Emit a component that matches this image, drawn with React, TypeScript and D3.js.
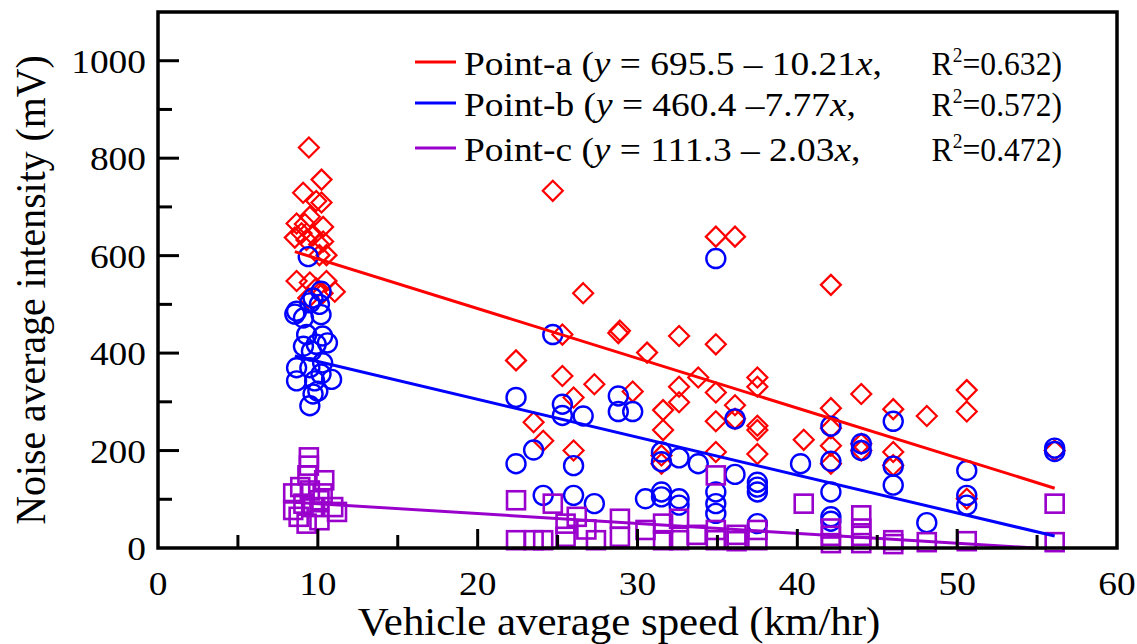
import React from "react";
import * as d3 from "d3";

// Vehicle speed (km/hr) vs. noise intensity (mV) at three measuring points
const pointASpeed = [
  9.44, 10.23, 9.08, 9.9, 10.23, 8.67, 9.5, 9.19, 10.33, 8.56, 8.98, 9.71, 10.08, 10.33, 9.29, 10.54, 10.1, 8.67, 9.5, 10.54, 11.06, 9.9, 9.4, 10.3,
  24.7, 34.9, 36.1, 26.6, 25.3, 28.8, 28.9, 32.6, 34.9, 30.6, 22.4, 25.3, 27.3, 29.7, 33.8, 32.6, 32.6, 34.9, 37.5, 37.5, 26, 31.6, 36.1, 31.6, 23.5, 24.1, 26, 34.9, 37.5, 37.5, 36.1, 34.9, 37.5, 31.5, 31.5,
  40.4, 42.1, 44, 42.1, 46, 48.1, 50.6, 50.6, 42.1, 42.1, 42.1, 44, 44, 46, 46, 50.6, 56.1,
];
const pointANoise = [
  822, 756, 729, 712, 709, 666, 680, 665, 659, 637, 646, 642, 623, 629, 632, 601, 601, 548, 545, 548, 526, 533, 513, 523,
  733, 639, 639, 523, 438, 441, 446, 435, 418, 401, 385, 353, 336, 321, 350, 331, 299, 319, 350, 331, 309, 283, 293, 242, 258, 220, 200, 260, 251, 242, 265, 197, 193, 190, 173,
  222, 540, 316, 287, 285, 271, 324, 280, 246, 210, 173, 214, 200, 197, 170, 101, 200,
];

const pointBSpeed = [
  9.4, 10.2, 9.7, 8.67, 9.5, 8.56, 9.1, 10.2, 10.1, 9.3, 10.3, 9.1, 9.9, 10.6, 9.6, 8.67, 9.5, 10.3, 8.67, 9.8, 10.86, 10.2, 9.7, 9.5, 10.0,
  24.7, 34.9, 22.4, 25.3, 25.3, 26.6, 28.8, 28.8, 29.7, 36.1, 23.5, 22.4, 26, 31.5, 31.5, 32.6, 33.8, 36.1, 24.1, 26, 27.3, 30.5, 31.5, 31.5, 32.6, 32.6, 34.9, 34.9, 34.9, 37.5, 37.5, 37.5, 37.5,
  40.2, 42.1, 42.1, 42.1, 42.1, 42.1, 44, 44, 46, 46, 46, 48.1, 50.6, 50.6, 50.6, 56.1, 56.1,
];
const pointBNoise = [
  598, 527, 513, 486, 503, 480, 472, 479, 500, 438, 435, 414, 418, 421, 404, 370, 370, 380, 343, 343, 346, 357, 316, 292, 322,
  438, 594, 309, 295, 272, 271, 312, 280, 280, 265, 201, 173, 169, 197, 177, 185, 173, 151, 108, 108, 91, 101, 115, 105, 101, 88, 115, 91, 71, 135, 125, 115, 50,
  173, 250, 178, 115, 64, 55, 214, 200, 260, 168, 129, 52, 159, 108, 88, 205, 198,
];

const pointCSpeed = [
  9.44, 9.44, 9.35, 10.4, 8.46, 8.46, 9.5, 9.1, 10.1, 10.96, 11.2, 9.3, 10.1, 9.7, 10.3, 8.9, 8.8,
  22.4, 24.7, 34.9, 28.9, 22.4, 23.5, 24.1, 25.5, 25.5, 26.2, 26.8, 27.4, 28.9, 30.5, 31.6, 31.6, 32.6, 32.6, 33.7, 34.9, 34.9, 36.2, 36.2, 37.5, 37.5,
  40.4, 56.1, 42.1, 42.1, 42.1, 44, 44, 44, 44, 46, 46, 48.1, 50.6, 56.1,
];
const pointCNoise = [
  186, 169, 149, 139, 112, 78, 118, 91, 98, 84, 74, 50, 57, 84, 112, 125, 64,
  98, 91, 149, 60, 16, 16, 16, 50, 23, 64, 38, 16, 23, 37, 50, 16, 60, 16, 27, 37, 16, 27, 14, 37, 16,
  91, 91, 40, 25, 10, 67, 40, 25, 10, 16, 8, 12, 14, 12,
];

// Linear fits: intercept, slope
const fitIntercepts = [695.5, 460.4, 111.3];
const fitSlopes = [-10.21, -7.77, -2.03];

const seriesNames = ["Point-a", "Point-b", "Point-c"];
const fitEquations = ["695.5 \u2013 10.21", "460.4 \u20137.77", "111.3 \u2013 2.03"];
const fitR2 = ["0.632", "0.572", "0.472"];

const xTicks = [0, 10, 20, 30, 40, 50, 60];
const xMinorTicks = [5, 15, 25, 35, 45, 55];
const yTicks = [0, 200, 400, 600, 800, 1000];
const yMinorTicks = [100, 300, 500, 700, 900];

const colors = ["#ff0000", "#0000ff", "#9900cc"];

const W = 1137;
const H = 644;
const left = 158;
const right = 1117;
const top = 12;
const bottom = 548;

const x = d3.scaleLinear().domain([0, 60]).range([left, right]);
const y = d3.scaleLinear().domain([0, 1100]).range([bottom, top]);

const serif = "'Liberation Serif', 'Times New Roman', serif";
// the type is set slightly wide
const stretch = 1.1;

function zip(xs: number[], ys: number[]) {
  return xs.map((v, i) => [v, ys[i]] as [number, number]);
}

const series = [
  zip(pointASpeed, pointANoise),
  zip(pointBSpeed, pointBNoise),
  zip(pointCSpeed, pointCNoise),
];

const diamondPath = "M0,-10L10,0L0,10L-10,0Z";

function Marker({ kind, cx, cy, color }: { kind: number; cx: number; cy: number; color: string }) {
  if (kind === 0) {
    return <path d={diamondPath} transform={`translate(${cx},${cy})`} fill="none" stroke={color} strokeWidth={2.2} />;
  }
  if (kind === 1) {
    return <circle cx={cx} cy={cy} r={9.5} fill="none" stroke={color} strokeWidth={2.4} />;
  }
  return <rect x={cx - 9} y={cy - 9} width={18} height={18} fill="none" stroke={color} strokeWidth={2.6} />;
}

function WideText({
  tx,
  ty,
  anchor = "start",
  size,
  sx = stretch,
  children,
}: {
  tx: number;
  ty: number;
  anchor?: string;
  size: number;
  sx?: number;
  children: React.ReactNode;
}) {
  return (
    <text
      transform={`translate(${tx},${ty}) scale(${sx},1)`}
      textAnchor={anchor}
      fontSize={size}
      fill="#000"
      style={{ whiteSpace: "pre" }}
    >
      {children}
    </text>
  );
}

export default function App() {
  const line = d3
    .line<[number, number]>()
    .x((d) => x(d[0]))
    .y((d) => y(d[1]));

  const fitLines = series.map((pts, i) => {
    const xs = pts.map((p) => p[0]);
    const x0 = d3.min(xs) as number;
    let x1 = d3.max(xs) as number;
    const b = fitIntercepts[i];
    const m = fitSlopes[i];
    // stop where the fit reaches zero
    if (b + m * x1 < 0) x1 = -b / m;
    return line([
      [x0, b + m * x0],
      [x1, b + m * x1],
    ]);
  });

  const legendRows = [
    { lineY: 62, base: 75 },
    { lineY: 103, base: 116 },
    { lineY: 148, base: 161 },
  ];

  return (
    <svg
      width={W}
      height={H}
      style={{ position: "absolute", left: 0, top: 0, background: "#fff" }}
      fontFamily={serif}
    >
      <rect x={0} y={0} width={W} height={H} fill="#fff" />

      {/* markers */}
      {series.map((pts, si) =>
        pts.map((p, i) => <Marker key={`${si}-${i}`} kind={si} cx={x(p[0])} cy={y(p[1])} color={colors[si]} />)
      )}

      {/* fitted lines */}
      {fitLines.map((d, i) => (
        <path key={i} d={d || ""} fill="none" stroke={colors[i]} strokeWidth={3} />
      ))}

      {/* ticks */}
      {xTicks.slice(1, -1).map((t) => (
        <line key={`xt${t}`} x1={x(t)} x2={x(t)} y1={bottom} y2={bottom - 19} stroke="#000" strokeWidth={3} />
      ))}
      {xMinorTicks.map((t) => (
        <line key={`xm${t}`} x1={x(t)} x2={x(t)} y1={bottom} y2={bottom - 13} stroke="#000" strokeWidth={3} />
      ))}
      {yTicks.slice(1).map((t) => (
        <line key={`yt${t}`} x1={left} x2={left + 21} y1={y(t)} y2={y(t)} stroke="#000" strokeWidth={3} />
      ))}
      {yMinorTicks.map((t) => (
        <line key={`ym${t}`} x1={left} x2={left + 14} y1={y(t)} y2={y(t)} stroke="#000" strokeWidth={3} />
      ))}

      {/* frame */}
      <rect x={left} y={top} width={right - left} height={bottom - top} fill="none" stroke="#000" strokeWidth={3.5} />

      {/* tick labels */}
      {yTicks.map((t) => (
        <WideText key={`yl${t}`} tx={146} ty={y(t) + 12} anchor="end" size={34}>
          {t}
        </WideText>
      ))}
      {xTicks.map((t) => (
        <WideText key={`xl${t}`} tx={x(t)} ty={595} anchor="middle" size={34}>
          {t}
        </WideText>
      ))}

      {/* axis titles */}
      <WideText tx={619} ty={635} anchor="middle" size={39}>
        Vehicle average speed (km/hr)
      </WideText>
      <text
        transform={`translate(45,${(top + bottom) / 2 + 10}) rotate(-90) scale(1.02,${stretch})`}
        textAnchor="middle"
        fontSize={39}
        fill="#000"
      >
        Noise average intensity (mV)
      </text>

      {/* legend */}
      {legendRows.map((r, i) => (
        <g key={`lg${i}`}>
          <line x1={415} x2={456} y1={r.lineY} y2={r.lineY} stroke={colors[i]} strokeWidth={3} />
          <WideText tx={464} ty={r.base} size={34}>
            {seriesNames[i]} (<tspan fontStyle="italic">y</tspan> = {fitEquations[i]}
            <tspan fontStyle="italic">x</tspan>,
          </WideText>
          <WideText tx={1062} ty={r.base} anchor="end" size={34} sx={0.93}>
            R<tspan fontSize={21} dy={-13}>2</tspan>
            <tspan dy={13}>=</tspan>
            {fitR2[i]})
          </WideText>
        </g>
      ))}
    </svg>
  );
}
